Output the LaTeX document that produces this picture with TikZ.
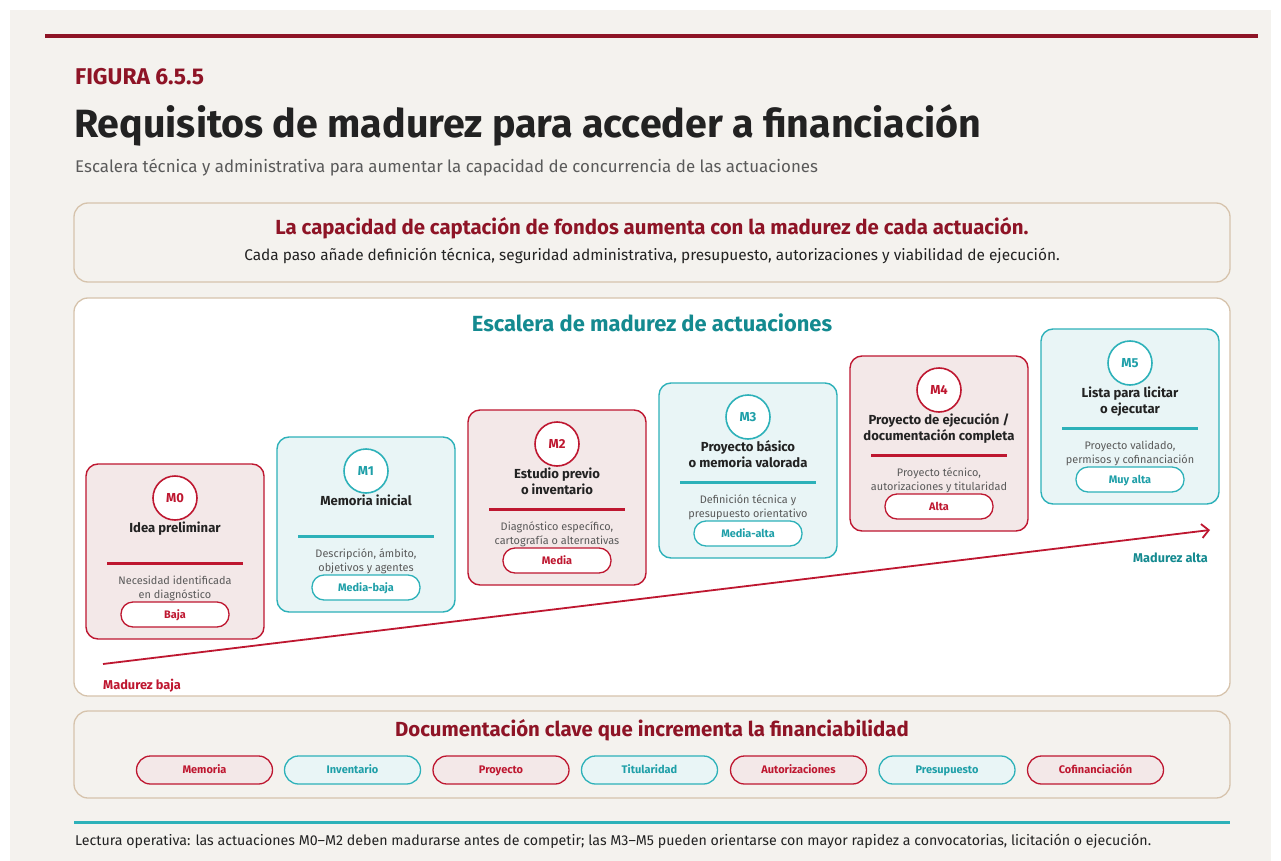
\documentclass[tikz,border=0pt]{standalone}
\usepackage{fontspec}
\setmainfont{Fira Sans}
\usetikzlibrary{arrows.meta}
\definecolor{pagebg}{HTML}{F4F2EE}
\definecolor{darkred}{HTML}{8E1426}
\definecolor{cardred}{HTML}{BE1730}
\definecolor{redfill}{HTML}{F3E8E8}
\definecolor{tealline}{HTML}{2DB1B9}
\definecolor{tealtext}{HTML}{1E9FA8}
\definecolor{tealhead}{HTML}{148A90}
\definecolor{tealfill}{HTML}{E9F5F6}
\definecolor{tan}{HTML}{D6C3AC}
\definecolor{textdark}{HTML}{222222}
\definecolor{textgrey}{HTML}{5A5A5A}
\newcommand\fsz[2]{\fontsize{#1}{#2}\selectfont}
\newcommand\lines[1]{\begin{tabular}[t]{@{}c@{}}#1\end{tabular}}
\tikzset{
  panel/.style={draw=tan, line width=1.3pt, rounded corners=14pt},
  cardbox/.style={draw=#1line, fill=#1fill, line width=1.4pt, rounded corners=12pt, minimum width=178pt, minimum height=175pt, inner sep=0pt},
  mcircle/.style={circle, draw=#1line, fill=white, line width=1.6pt, minimum size=44pt, inner sep=0pt, text=#1text, font=\bfseries\fsz{13}{15}},
  cardtitle/.style={anchor=base, text=textdark, font=\bfseries\fsz{13.1}{16}, inner sep=0pt},
  carddesc/.style={anchor=base, text=textgrey, font=\fsz{10.9}{14}, inner sep=0pt},
  sepline/.style={draw=#1line, line width=2.2pt},
  cardpill/.style={draw=#1line, fill=white, line width=1.3pt, rounded corners=12pt, minimum width=108pt, minimum height=25pt, inner sep=0pt, text height=9pt, text depth=2pt, text=#1text, font=\bfseries\fsz{10.9}{12}},
  docpill/.style={draw=#1line, fill=#1fill, line width=1.3pt, rounded corners=14pt, minimum width=136pt, minimum height=28pt, inner sep=0pt, text height=9pt, text depth=2pt, text=#1text, font=\bfseries\fsz{11}{13}},
}
\colorlet{rline}{cardred}
\colorlet{rfill}{redfill}
\colorlet{rtext}{cardred}
\colorlet{tline}{tealline}
\colorlet{tfill}{tealfill}
\colorlet{ttext}{tealtext}
\newcommand\stepcard[8]{%
  \node[cardbox=#4] (#1) at (#2+89, #3+87.5) {};
  \node[mcircle=#4] (#1c) at (#2+89, #3+34) {#5};
  \node[cardtitle] (#1t) at (#2+89, #3+68) {\lines{#6}};
  \coordinate (#1sa) at (#2+21, #3+99.5);
  \coordinate (#1sb) at (#2+157, #3+99.5);
  \draw[sepline=#4] (#1sa) -- (#1sb);
  \node[carddesc] (#1d) at (#2+89, #3+120) {\lines{#7}};
  \node[cardpill=#4] (#1p) at (#2+89, #3+150.5) {#8};
}
\begin{document}
\begin{tikzpicture}[x=1pt,y=-1pt]
\useasboundingbox (0,0) rectangle (1281,861);
\fill[white] (0,0) rectangle (1281,861);
\fill[pagebg] (10,10) rectangle (1271,861);
\fill[darkred] (45,34) rectangle (1258,38);
\node[anchor=base west, inner sep=0pt, text=darkred, font=\bfseries\fsz{22.8}{24}] (fig) at (75,85) {FIGURA 6.5.5};
\node[anchor=base west, inner sep=0pt, text=textdark, font=\bfseries\fsz{39.4}{42}] (title) at (74,138) {Requisitos de madurez para acceder a financiación};
\node[anchor=base west, inner sep=0pt, text=textgrey, font=\fsz{16.9}{18}] (sub) at (75,172) {Escalera técnica y administrativa para aumentar la capacidad de concurrencia de las actuaciones};
% box 1
\draw[panel, fill=pagebg] (74,203) rectangle (1230,282);
\node[anchor=base, inner sep=0pt, text=darkred, font=\bfseries\fsz{20.4}{22}] (h1) at (652,234) {La capacidad de captación de fondos aumenta con la madurez de cada actuación.};
\node[anchor=base, inner sep=0pt, text=textdark, font=\fsz{15.4}{17}] (h1b) at (652,260) {Cada paso añade definición técnica, seguridad administrativa, presupuesto, autorizaciones y viabilidad de ejecución.};
% box 2
\draw[panel, fill=white] (74,298) rectangle (1230,696);
\node[anchor=base, inner sep=0pt, text=tealhead, font=\bfseries\fsz{21.9}{24}] (h2) at (652,331) {Escalera de madurez de actuaciones};
% arrow
\coordinate (alow) at (103,664);
\coordinate (ahigh) at (1210,530);
\draw[cardred, line width=1.8pt, -{Straight Barb[length=7pt,width=14pt,line width=1.8pt]}] (alow) -- (ahigh);
\node[anchor=base west, inner sep=0pt, text=cardred, font=\bfseries\fsz{12.8}{14}] (low) at (103,689) {Madurez baja};
\node[anchor=base east, inner sep=0pt, text=tealhead, font=\bfseries\fsz{12.7}{14}] (high) at (1208,562) {Madurez alta};
% cards
\stepcard{m0}{86}{464}{r}{M0}{Idea preliminar}{Necesidad identificada\\en diagnóstico}{Baja}
\stepcard{m1}{277}{437}{t}{M1}{Memoria inicial}{Descripción, ámbito,\\objetivos y agentes}{Media-baja}
\stepcard{m2}{468}{410}{r}{M2}{Estudio previo\\o inventario}{Diagnóstico específico,\\cartografía o alternativas}{Media}
\stepcard{m3}{659}{383}{t}{M3}{Proyecto básico\\o memoria valorada}{Definición técnica y\\presupuesto orientativo}{Media-alta}
\stepcard{m4}{850}{356}{r}{M4}{Proyecto de ejecución /\\documentación completa}{Proyecto técnico,\\autorizaciones y titularidad}{Alta}
\stepcard{m5}{1041}{329}{t}{M5}{Lista para licitar\\o ejecutar}{Proyecto validado,\\permisos y cofinanciación}{Muy alta}
% box 3
\draw[panel, fill=pagebg] (74,711) rectangle (1230,798);
\node[anchor=base, inner sep=0pt, text=darkred, font=\bfseries\fsz{20.4}{22}] (h3) at (652,736) {Documentación clave que incrementa la financiabilidad};
\node[docpill=r] (d1) at (204.5,770) {Memoria};
\node[docpill=t] (d2) at (352.5,770) {Inventario};
\node[docpill=r] (d3) at (501,770) {Proyecto};
\node[docpill=t] (d4) at (649.5,770) {Titularidad};
\node[docpill=r] (d5) at (798.5,770) {Autorizaciones};
\node[docpill=t] (d6) at (947,770) {Presupuesto};
\node[docpill=r] (d7) at (1095.5,770) {Cofinanciación};
% footer
\fill[tealline] (74,821) rectangle (1230,824);
\node[anchor=base west, inner sep=0pt, text=textdark, font=\fsz{14.2}{16}] (foot) at (75,845) {Lectura operativa: las actuaciones M0–M2 deben madurarse antes de competir; las M3–M5 pueden orientarse con mayor rapidez a convocatorias, licitación o ejecución.};
\end{tikzpicture}
\end{document}
